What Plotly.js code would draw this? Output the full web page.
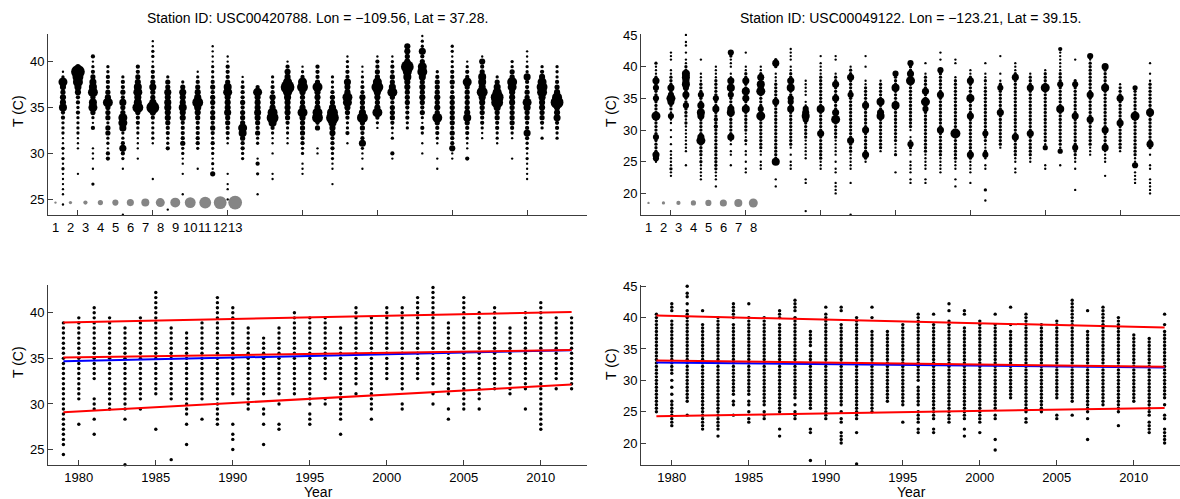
<!DOCTYPE html>
<html>
<head>
<meta charset="utf-8">
<script src="https://cdn.plot.ly/plotly-3.0.1.min.js"></script>
<style>
  html, body { margin: 0; padding: 0; background: #fff; }
  #chart { width: 1180px; height: 499px; }
</style>
</head>
<body>
<div id="chart"></div>
<script>
// Years of record shared by both stations
const years = [1979, 1980, 1981, 1982, 1983, 1984, 1985, 1986, 1987, 1988, 1989, 1990,
               1991, 1992, 1993, 1994, 1995, 1996, 1997, 1998, 1999, 2000, 2001, 2002,
               2003, 2004, 2005, 2006, 2007, 2008, 2009, 2010, 2011, 2012];

// Station USC00420788: daily maxima were logged in whole degrees F.
// For each year: lowest reading (F) and how many days fell on each successive degree (base-36 digit).
const station1Base = [76, 82, 80, 85, 74, 85, 81, 75, 78, 83, 82, 77, 85, 78, 81, 88, 82,
                      86, 80, 88, 83, 91, 85, 91, 86, 83, 85, 85, 89, 88, 85, 81, 89, 89];
const station1Counts = [
  "101111121212112223375545821", "1000011122223233569ad4", "20010111000312487497643213",
  "3312244244495433322", "1000000001023632268844634332", "1011122334a76875433",
  "10000001222235c6446433212211", "100000000000322334556656442", "10001011224333355755642",
  "1000233333456a654321", "41212232343443443432221111", "10110100000123344655587433311",
  "22334784443433321", "1000203100224345655583", "110001011237b95453322",
  "11223455568d85531", "11102233444595445a8321", "1100043a9545594333",
  "1001122333557ca6443222", "103223458955633221", "1011263344a6445332211",
  "12395456b844331", "130021234443496443321", "223334445578c5455",
  "101023124345454698436221", "10100123349454544432", "11533434444443343322122",
  "30112334754444483321", "112334456a6774351", "12233446bc8642",
  "10001234444555894422", "11112122363344684433622111", "2023445569a8532",
  "2233655c9543222"
];

// Station USC00049122, same layout
const station2Base = [77, 73, 76, 72, 70, 76, 74, 75, 70, 75, 63, 75, 68, 62, 77, 80, 74,
                      71, 71, 74, 70, 71, 66, 81, 74, 77, 75, 76, 69, 79, 73, 80, 71, 68];
const station2Counts = [
  "15622225222228222252252621112", "112111110101010115122685262221100111",
  "10001111111121222522625767722110101101", "11111212222862222267262252221110001",
  "10111222222222222323226225222221111", "100110116222222762225272611011125",
  "11010110121122222272262722622110001", "111011222222222825222285726211",
  "1010000722222222222222226222221110262", "11101012222222222625522726221101111",
  "10000000110000011111122222576511011111", "111222222262222227222222222111101",
  "1111001101011111222228262226222622100011", "1000000001000111112226222222222222522226221",
  "1262222226222222622222110001001", "122222222276227222221",
  "10000211122222222227222272225", "11011110112511012222222222222826225",
  "11001111122222222222252822622221001", "11111222222262222222226222222500101",
  "1010011122222229222222222222222100011", "100111126222222222262222722226211",
  "1002000001101521122522222222222221211001", "122222222262222225210100001",
  "11011222226222222222222222262111", "11222222622222222222262221",
  "11000041222222222222222822221", "1000412222222222722222252221111113",
  "10000010112252222222262222222252000001", "11122222226222222622222222215",
  "10001111622226222222222227222226", "12222222622222262221",
  "1111051122222222222822222224", "11111001100102622222222722222222101001"
];

// Fitted trend lines, value at first and last year (C)
const fitYears = [1979, 2012];
const s1Q90 = [38.94, 40.08], s1Q50 = [35.10, 35.92], s1Q10 = [29.09, 32.12], s1Mean = [34.67, 35.90];
const s2Q90 = [40.32, 38.41], s2Q50 = [33.17, 32.17], s2Q10 = [24.29, 25.60], s2Mean = [32.86, 32.06];

// Bubble-size key values
const key1 = [1, 2, 3, 4, 5, 6, 7, 8, 9, 10, 11, 12, 13];
const key2 = [1, 2, 3, 4, 5, 6, 7, 8];

const titles = [
  "Station ID: USC00420788. Lon = \u2212109.56, Lat = 37.28.",
  "Station ID: USC00049122. Lon = \u2212123.21, Lat = 39.15."
];

// ---- expand the day counts into (year, temperature in C, count) points
function expand(bases, counts) {
  const x = [], t = [], n = [];
  counts.forEach((s, i) => {
    for (let j = 0; j < s.length; j++) {
      const c = parseInt(s[j], 36);
      if (c > 0) {
        x.push(years[i]);
        t.push((bases[i] + j - 32) * 5 / 9);
        n.push(c);
      }
    }
  });
  return { x, t, n };
}

const p1 = expand(station1Base, station1Counts);
const p2 = expand(station2Base, station2Counts);

const bubblePx = c => 0.95 * c + 1.4;
const FONT = 'Liberation Sans, Arial, Helvetica, sans-serif';

function bubbles(p, xa, ya) {
  return { type: 'scatter', mode: 'markers', x: p.x, y: p.t, xaxis: xa, yaxis: ya,
    cliponaxis: false, hoverinfo: 'skip',
    marker: { color: '#000', opacity: 1, size: p.n.map(bubblePx), line: { width: 0 } } };
}
function dots(p, xa, ya) {
  return { type: 'scatter', mode: 'markers', x: p.x, y: p.t, xaxis: xa, yaxis: ya,
    cliponaxis: false, hoverinfo: 'skip',
    marker: { color: '#000', opacity: 1, size: 3.4, line: { width: 0 } } };
}
function key(vals, yVal, xa, ya) {
  return { type: 'scatter', mode: 'markers', x: vals.map(v => 1978.5 + v - 1),
    y: vals.map(() => yVal), xaxis: xa, yaxis: ya, cliponaxis: false, hoverinfo: 'skip',
    marker: { color: '#858585', opacity: 1, size: vals.map(bubblePx), line: { width: 0 } } };
}
function fit(vals, color, xa, ya) {
  return { type: 'scatter', mode: 'lines', x: fitYears, y: vals, xaxis: xa, yaxis: ya,
    hoverinfo: 'skip', line: { color: color, width: 2 } };
}

const data = [
  bubbles(p1, 'x', 'y'),
  key(key1, 24.65, 'x', 'y'),
  bubbles(p2, 'x2', 'y2'),
  key(key2, 18.5, 'x2', 'y2'),
  dots(p1, 'x3', 'y3'),
  fit(s1Mean, '#0000ff', 'x3', 'y3'),
  fit(s1Q90, '#ff0000', 'x3', 'y3'),
  fit(s1Q50, '#ff0000', 'x3', 'y3'),
  fit(s1Q10, '#ff0000', 'x3', 'y3'),
  dots(p2, 'x4', 'y4'),
  fit(s2Mean, '#0000ff', 'x4', 'y4'),
  fit(s2Q90, '#ff0000', 'x4', 'y4'),
  fit(s2Q50, '#ff0000', 'x4', 'y4'),
  fit(s2Q10, '#ff0000', 'x4', 'y4')
];

const W = 1180, H = 499;
const px = v => v / W;
const py = v => 1 - v / H;

const ax = {
  showgrid: false, zeroline: false, showline: true, linecolor: '#3c3c3c', linewidth: 1,
  ticks: 'inside', ticklen: 5, tickwidth: 1, tickcolor: '#3c3c3c',
  tickfont: { family: FONT, size: 13, color: '#000' }, fixedrange: true
};
const leftDom = [px(48), px(587)];
const rightDom = [px(641), 1];
const topDom = [py(215), py(34)];
const botDom = [py(465), py(285)];
const yearTicks = [1980, 1985, 1990, 1995, 2000, 2005, 2010];

const annotations = [];
function txt(text, x, y, opts) {
  annotations.push(Object.assign({ text, x, y, xref: 'paper', yref: 'paper',
    showarrow: false, xanchor: 'center', yanchor: 'middle',
    font: { family: FONT, size: 13, color: '#000' } }, opts || {}));
}
const f14 = { family: FONT, size: 14, color: '#000' };
txt(titles[0], px(317.5), py(18), { font: f14 });
txt(titles[1], px(910.5), py(18), { font: f14 });
txt('T (C)', px(18), py(111), { textangle: -90, font: f14 });
txt('T (C)', px(611), py(111), { textangle: -90, font: f14 });
txt('T (C)', px(18), py(362), { textangle: -90, font: f14 });
txt('T (C)', px(611), py(364), { textangle: -90, font: f14 });
txt('Year', px(318), py(492), { font: f14 });
txt('Year', px(911), py(492), { font: f14 });
key1.forEach(v => annotations.push({ text: String(v), x: 1978.5 + v - 1, xref: 'x', y: py(227.5), yref: 'paper',
  showarrow: false, xanchor: 'center', yanchor: 'middle', font: { family: FONT, size: 13, color: '#000' } }));
key2.forEach(v => annotations.push({ text: String(v), x: 1978.5 + v - 1, xref: 'x2', y: py(227.5), yref: 'paper',
  showarrow: false, xanchor: 'center', yanchor: 'middle', font: { family: FONT, size: 13, color: '#000' } }));

const layout = {
  width: W, height: H,
  margin: { l: 0, r: 0, t: 0, b: 0 },
  paper_bgcolor: '#fff', plot_bgcolor: '#fff',
  showlegend: false,
  font: { family: FONT, size: 13, color: '#000' },
  xaxis:  Object.assign({}, ax, { domain: leftDom,  anchor: 'y',  range: [1978, 2014], tickvals: yearTicks, showticklabels: false }),
  yaxis:  Object.assign({}, ax, { domain: topDom,   anchor: 'x',  range: [23.3, 43.0], tickvals: [25, 30, 35, 40] }),
  xaxis2: Object.assign({}, ax, { domain: rightDom, anchor: 'y2', range: [1978, 2014], tickvals: yearTicks, showticklabels: false }),
  yaxis2: Object.assign({}, ax, { domain: topDom,   anchor: 'x2', range: [16.6, 45.15], tickvals: [20, 25, 30, 35, 40, 45] }),
  xaxis3: Object.assign({}, ax, { domain: leftDom,  anchor: 'y3', range: [1978, 2013], tickvals: yearTicks }),
  yaxis3: Object.assign({}, ax, { domain: botDom,   anchor: 'x3', range: [23.3, 43.05], tickvals: [25, 30, 35, 40] }),
  xaxis4: Object.assign({}, ax, { domain: rightDom, anchor: 'y4', range: [1978, 2013], tickvals: yearTicks }),
  yaxis4: Object.assign({}, ax, { domain: botDom,   anchor: 'x4', range: [16.5, 45.2], tickvals: [20, 25, 30, 35, 40, 45] }),
  annotations
};

Plotly.newPlot('chart', data, layout, { staticPlot: true, displayModeBar: false });
</script>
</body>
</html>
